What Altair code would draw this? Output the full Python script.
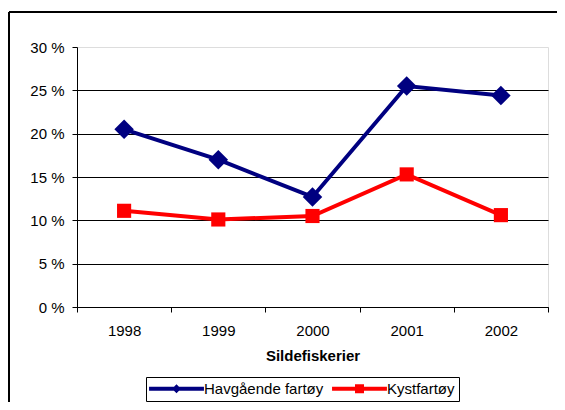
import altair as alt
import pandas as pd

years = [1998, 1999, 2000, 2001, 2002]
havgaende = [0.205, 0.170, 0.127, 0.255, 0.244]
kyst = [0.111, 0.101, 0.105, 0.153, 0.106]
series_names = ["Havgående fartøy", "Kystfartøy"]
series_colors = ["#000080", "#FF0000"]
y_ticks = [0, 0.05, 0.10, 0.15, 0.20, 0.25, 0.30]
x_ticks = [1997.5, 1998.5, 1999.5, 2000.5, 2001.5, 2002.5]
x_title = "Sildefiskerier"

FONT = "Liberation Sans"
W, H = 471, 260

df = pd.DataFrame({
    "year": years * 2,
    "value": havgaende + kyst,
    "series": [series_names[0]] * len(years) + [series_names[1]] * len(years),
})

# legend symbols: line segment with marker (unit coordinates)
leg_diamond = "M-6.1,-0.45L6.1,-0.45L6.1,0.45L-6.1,0.45ZM0,-1L1,0L0,1L-1,0Z"
leg_square = "M-6.1,-0.45L6.1,-0.45L6.1,0.45L-6.1,0.45ZM-1,-1L1,-1L1,1L-1,1Z"

x_enc = alt.X(
    "year:Q",
    scale=alt.Scale(domain=[1997.5, 2002.5], nice=False, zero=False),
    axis=alt.Axis(
        values=x_ticks,
        labelExpr="datum.value < 2002 ? '' + (datum.value + 0.5) : ''",
        labelOffset=W / 10,
        labelFlush=False,
        labelOverlap=False,
        labelBound=False,
        grid=False,
        tickSize=5,
        labelPadding=11,
        title=x_title,
        titleFont=FONT,
        titleFontSize=15,
        titleFontWeight="bold",
        titleColor="black",
        titlePadding=10,
        labelFont=FONT,
        labelFontSize=15,
        labelColor="black",
        domainColor="black",
        tickColor="black",
    ),
)
y_enc = alt.Y(
    "value:Q",
    scale=alt.Scale(domain=[0, 0.3], nice=False),
    axis=alt.Axis(
        values=y_ticks,
        labelExpr="round(datum.value*100) + ' %'",
        title=None,
        grid=True,
        gridColor="black",
        gridOpacity={"condition": {"test": "datum.value >= 0.29", "value": 0}, "value": 1},
        tickSize=5,
        labelPadding=8,
        labelFont=FONT,
        labelFontSize=15,
        labelColor="black",
        domainColor="black",
        tickColor="black",
    ),
)
color_scale = alt.Scale(domain=series_names, range=series_colors)

base = alt.Chart(df)

legend = alt.Legend(
    title=None, orient="none", legendX=69, legendY=330, direction="horizontal",
    strokeColor="black", fillColor="white", padding=4,
    symbolSize=81, symbolStrokeWidth=0, symbolOffset=19, labelOffset=20,
    columnPadding=8, labelFont=FONT, labelFontSize=15, labelColor="black",
)
legend_layer = base.mark_point(filled=True, size=0, opacity=1).encode(
    x=x_enc, y=y_enc,
    color=alt.Color("series:N", scale=color_scale, legend=legend),
    shape=alt.Shape("series:N", scale=alt.Scale(domain=series_names, range=[leg_diamond, leg_square]), legend=legend),
)

lines = base.mark_line(strokeWidth=4).encode(
    x=x_enc, y=y_enc,
    color=alt.Color("series:N", scale=color_scale, legend=None),
)
diamonds = base.transform_filter(
    alt.datum.series == series_names[0]
).mark_point(shape="diamond", filled=True, size=380, opacity=1).encode(
    x=x_enc, y=y_enc,
    color=alt.Color("series:N", scale=color_scale, legend=None),
)
squares = base.transform_filter(
    alt.datum.series == series_names[1]
).mark_point(shape="square", filled=True, size=200, opacity=1).encode(
    x=x_enc, y=y_enc,
    color=alt.Color("series:N", scale=color_scale, legend=None),
)

frame_data = alt.Data(values=[{"k": 1}])
frame_top = alt.Chart(frame_data).mark_rule(color="black", strokeWidth=2).encode(
    x=alt.value(-68), x2=alt.value(W + 9), y=alt.value(-35)
)
frame_left = alt.Chart(frame_data).mark_rule(color="black", strokeWidth=2).encode(
    x=alt.value(-68), y=alt.value(-35), y2=alt.value(H + 100)
)

chart = alt.layer(legend_layer, frame_top, frame_left, lines, diamonds, squares).properties(
    width=W, height=H,
    autosize=alt.AutoSizeParams(type="none"),
    padding={"left": 69, "top": 39, "right": 9, "bottom": 95},
).configure_view(
    stroke="#808080", strokeWidth=2
).configure(background="white")

chart.save("out.html", embed_options={"renderer": "svg", "actions": False})
